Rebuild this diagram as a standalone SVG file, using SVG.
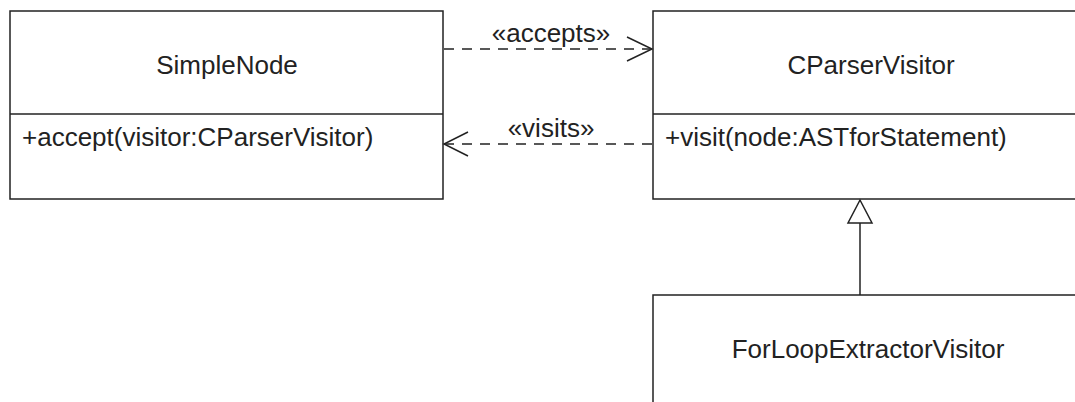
<svg xmlns="http://www.w3.org/2000/svg" width="1075" height="402" viewBox="0 0 1075 402">
<style>
.box{fill:#fff;stroke:#222;stroke-width:1.5}
.div{stroke:#222;stroke-width:1.5}
.t{font-family:"Liberation Sans",Arial,sans-serif;font-size:26px;fill:#222}
.c{text-anchor:middle}
.dash{fill:none;stroke:#222;stroke-width:1.5;stroke-dasharray:10 8}
.ln{fill:none;stroke:#222;stroke-width:1.5}
</style>
<rect width="1075" height="402" fill="#fff"/>
<g id="SimpleNode">
<rect class="box" x="10" y="11" width="433" height="188"/>
<line class="div" x1="10" y1="114" x2="443" y2="114"/>
<text class="t c" x="227" y="74">SimpleNode</text>
<text class="t" x="22" y="146">+accept(visitor:CParserVisitor)</text>
</g>
<g id="CParserVisitor">
<rect class="box" x="653" y="11" width="435" height="188"/>
<line class="div" x1="653" y1="114" x2="1088" y2="114"/>
<text class="t c" x="871" y="74">CParserVisitor</text>
<text class="t" x="665" y="146">+visit(node:ASTforStatement)</text>
</g>
<g id="ForLoopExtractorVisitor">
<rect class="box" x="653" y="295" width="435" height="120"/>
<text class="t c" x="868" y="358">ForLoopExtractorVisitor</text>
</g>
<g id="connectors">
<line class="dash" x1="444" y1="49" x2="651" y2="49"/>
<polyline class="ln" points="627,37 652,49 627,61"/>
<text class="t c" x="551" y="42">«accepts»</text>
<line class="dash" x1="652" y1="144" x2="445" y2="144"/>
<polyline class="ln" points="468,132 444,144 468,156"/>
<text class="t c" x="551" y="137">«visits»</text>
<line class="ln" x1="860" y1="295" x2="860" y2="223"/>
<polygon class="ln" points="860,200 848,223 872,223" style="fill:#fff"/>
</g>
</svg>
